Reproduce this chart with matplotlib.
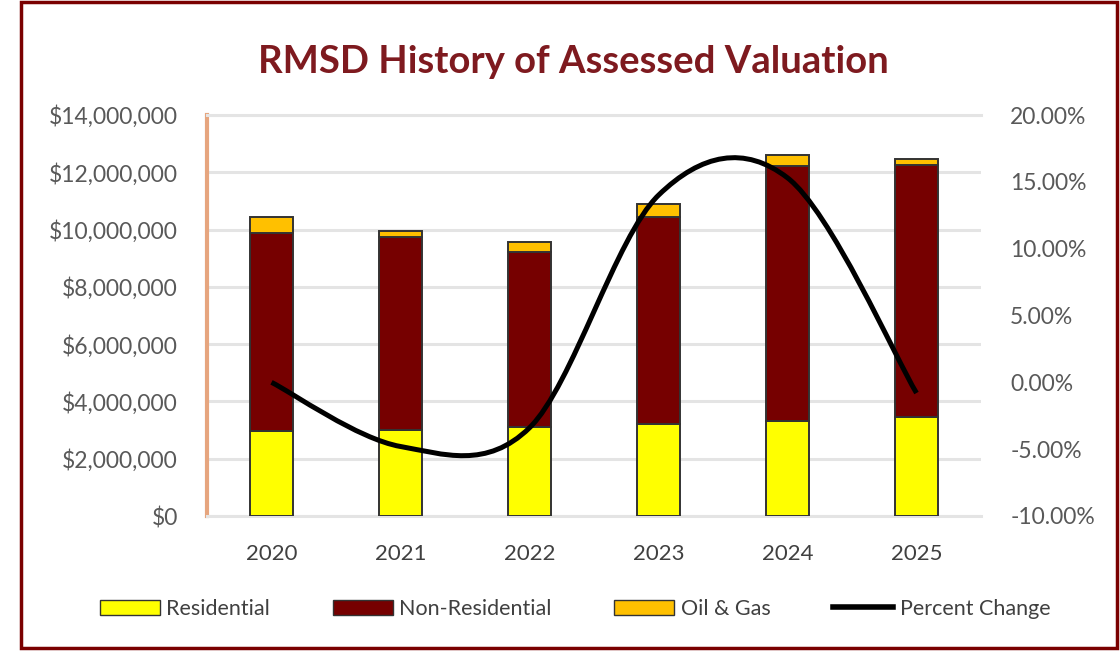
import numpy as np
import matplotlib
matplotlib.use("Agg")
import matplotlib.pyplot as plt
from matplotlib.path import Path
from matplotlib.patches import PathPatch, Patch, Rectangle
from matplotlib.lines import Line2D
from matplotlib.ticker import FuncFormatter, MultipleLocator

# data
years = ["2020", "2021", "2022", "2023", "2024", "2025"]
residential = [2.97e6, 3.00e6, 3.12e6, 3.21e6, 3.33e6, 3.45e6]
non_residential = [6.91e6, 6.73e6, 6.11e6, 7.24e6, 8.89e6, 8.81e6]
oil_gas = [0.56e6, 0.23e6, 0.35e6, 0.45e6, 0.38e6, 0.19e6]
pct_change = [0.0, -4.8, -3.4, 14.0, 15.3, -0.8]

plt.rcParams["font.family"] = ["Lato", "DejaVu Sans"]

c_res = "#FFFF00"
c_non = "#760000"
c_oil = "#FFC000"
c_edge = "#333333"
c_grid = "#E4E4E4"
c_tick = "#595959"

fig = plt.figure(figsize=(11.2, 6.52), dpi=100)
ax = fig.add_axes([207 / 1120, 1 - 516 / 652, 774 / 1120, 401 / 652])

x = np.arange(len(years))
w = 0.33
res = np.array(residential)
non = np.array(non_residential)
oil = np.array(oil_gas)
ax.bar(x, res, w, color=c_res, edgecolor=c_edge, linewidth=1.4, zorder=3)
ax.bar(x, non, w, bottom=res, color=c_non, edgecolor=c_edge, linewidth=1.4, zorder=3)
ax.bar(x, oil, w, bottom=res + non, color=c_oil, edgecolor=c_edge, linewidth=1.4, zorder=3)

ax.set_xlim(-0.5, len(years) - 0.5)
ax.set_ylim(0, 14e6)
ax.yaxis.set_major_locator(MultipleLocator(2e6))
ax.yaxis.set_major_formatter(FuncFormatter(lambda v, p: f"${v:,.0f}"))
ax.set_xticks(x)
ax.set_xticklabels(years)
ax.grid(axis="y", color=c_grid, linewidth=2.2, zorder=0)
ax.set_axisbelow(True)
ax.tick_params(axis="y", length=0, pad=21, labelsize=16.5, labelcolor=c_tick)
ax.tick_params(axis="x", length=0, pad=20, labelsize=16, labelcolor="#404040")
for s in ["top", "bottom"]:
    ax.spines[s].set_color(c_grid)
    ax.spines[s].set_linewidth(2.2)
ax.spines["right"].set_visible(False)
ax.spines["left"].set_color("#E6A57E")
ax.spines["left"].set_linewidth(3)

# percent change, smoothed like the spreadsheet line
ax2 = ax.twinx()
ax2.set_ylim(-10, 20)
ax2.yaxis.set_major_locator(MultipleLocator(5))
ax2.yaxis.set_major_formatter(FuncFormatter(lambda v, p: f"{v:.2f}%"))
ax2.tick_params(axis="y", length=0, pad=21, labelsize=16.5, labelcolor=c_tick)
for s in ax2.spines.values():
    s.set_visible(False)

ys = pct_change
n = len(ys)
verts = [(x[0], ys[0])]
codes = [Path.MOVETO]
for i in range(n - 1):
    a = max(i - 1, 0)
    b = min(i + 2, n - 1)
    verts.append((x[i] + (x[i + 1] - x[a]) / 6, ys[i] + (ys[i + 1] - ys[a]) / 6))
    verts.append((x[i + 1] - (x[b] - x[i]) / 6, ys[i + 1] - (ys[b] - ys[i]) / 6))
    verts.append((x[i + 1], ys[i + 1]))
    codes += [Path.CURVE4] * 3
ax2.add_patch(PathPatch(Path(verts, codes), facecolor="none", edgecolor="black",
                        linewidth=3.6, capstyle="butt", zorder=5))

fig.text(573 / 1120, 1 - 62 / 652, "RMSD History of Assessed Valuation",
         ha="center", va="center", fontsize=27.5, fontweight="bold", color="#7E1A1F")

handles = [Patch(facecolor=c_res, edgecolor=c_edge),
           Patch(facecolor=c_non, edgecolor=c_edge),
           Patch(facecolor=c_oil, edgecolor=c_edge),
           Line2D([0], [0], color="black", linewidth=4)]
labels = ["Residential", "Non-Residential", "Oil & Gas", "Percent Change"]
fig.legend(handles, labels, loc="center", bbox_to_anchor=(575 / 1120, 1 - 609 / 652),
           ncol=4, frameon=False, fontsize=15.5, handlelength=2.8, handleheight=0.75,
           handletextpad=0.3, columnspacing=2.9, labelcolor="#404040")

fig.patches.append(Rectangle((21 / 1120, 4 / 652), 1096 / 1120, 646 / 652,
                             transform=fig.transFigure, fill=False,
                             edgecolor="#7A0000", linewidth=2.5))

fig.savefig("out.png", dpi=100)
